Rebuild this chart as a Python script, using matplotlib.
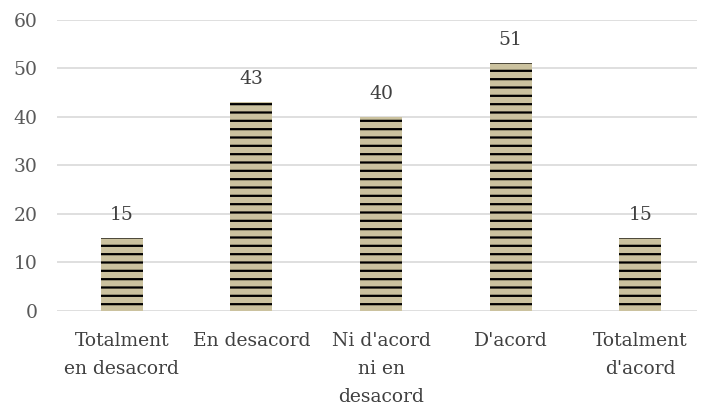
import matplotlib.pyplot as plt
import numpy as np

categories = ["Totalment\nen desacord", "En desacord", "Ni d'acord\nni en\ndesacord",
              "D'acord", "Totalment\nd'acord"]
values = [15, 43, 40, 51, 15]
yticks = [0, 10, 20, 30, 40, 50, 60]

plt.rcParams['font.family'] = ['DejaVu Serif']
plt.rcParams['hatch.linewidth'] = 1.6
plt.rcParams['hatch.color'] = 'black'

fig, ax = plt.subplots(figsize=(7.03, 4.09), dpi=100)
fig.subplots_adjust(left=0.081, right=0.992, top=0.952, bottom=0.24)

x = np.arange(len(values))
bars = ax.bar(x, values, width=0.324, color='#CBC29F', hatch='--', edgecolor='black',
              linewidth=0, zorder=3)

for xi, v in zip(x, values):
    ax.text(xi, v + 2.9, str(v), ha='center', va='bottom', fontsize=13.5, color='#404040')

ax.set_ylim(0, 60)
ax.set_xlim(-0.5, 4.44)
ax.set_yticks(yticks)
ax.set_xticks(x)
ax.set_xticklabels(categories, fontsize=13.5, color='#404040', linespacing=1.72)
ax.tick_params(axis='y', labelsize=13.5, labelcolor='#595959', length=0, pad=14)
ax.tick_params(axis='x', length=0, pad=15)
ax.grid(axis='y', color='#D9D9D9', linewidth=1.2, zorder=0)
for s in ax.spines.values():
    s.set_visible(False)

fig.savefig('out.png')
